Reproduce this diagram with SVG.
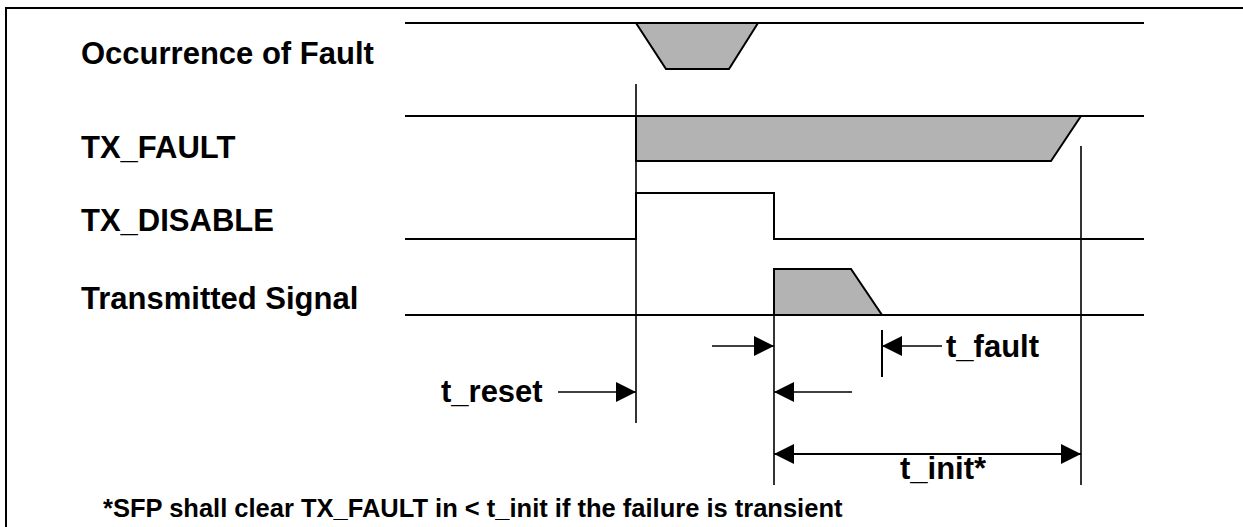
<svg xmlns="http://www.w3.org/2000/svg" width="1243" height="527" viewBox="0 0 1243 527">
<defs>
<style>
.lbl{font-family:"Liberation Sans",Arial,sans-serif;font-weight:bold;font-size:31px;fill:#000}
.foot{font-family:"Liberation Sans",Arial,sans-serif;font-weight:bold;font-size:25.5px;fill:#000}
.ln{stroke:#000;stroke-width:2;fill:none}
.gr{fill:#b3b3b3;stroke:#000;stroke-width:2}
.th{stroke:#000;stroke-width:1.6;fill:none}
</style>
<marker id="ah" viewBox="0 0 20 20" refX="20" refY="10" markerWidth="20" markerHeight="20" markerUnits="userSpaceOnUse" orient="auto-start-reverse">
<path d="M0,0 L20,10 L0,20 Z" fill="#000"/>
</marker>
</defs>
<rect x="0" y="0" width="1243" height="527" fill="#fff"/>
<rect x="6" y="8" width="1300" height="600" fill="none" stroke="#000" stroke-width="2"/>

<g id="occurrence">
<text class="lbl" x="81" y="64">Occurrence of Fault</text>
<line class="ln" x1="405" y1="23" x2="1144" y2="23"/>
<polygon class="gr" points="636,23 758,23 729,69 666,69"/>
</g>

<g id="tx_fault">
<text class="lbl" x="81" y="158">TX_FAULT</text>
<line class="ln" x1="405" y1="116" x2="1144" y2="116"/>
<polygon class="gr" points="636,116 1081,116 1051,161 636,161"/>
</g>

<g id="tx_disable">
<text class="lbl" x="81" y="231">TX_DISABLE</text>
<path class="ln" d="M405,239 H636 V193 H774 V239 H1144"/>
</g>

<g id="transmitted">
<text class="lbl" x="81" y="309">Transmitted Signal</text>
<line class="ln" x1="405" y1="315" x2="1144" y2="315"/>
<polygon class="gr" points="774,269 851,269 882,315 774,315"/>
</g>

<g id="guides">
<line class="th" x1="636" y1="84" x2="636" y2="423"/>
<line class="th" x1="774" y1="269" x2="774" y2="485"/>
<line class="th" x1="1081" y1="146" x2="1081" y2="485"/>
<line class="ln" x1="882" y1="330" x2="882" y2="377"/>
</g>

<g id="connectors">
<line class="th" x1="712" y1="346" x2="774" y2="346" marker-end="url(#ah)"/>
<line class="th" x1="942" y1="346" x2="882" y2="346" marker-end="url(#ah)"/>
<line class="th" x1="558" y1="392" x2="636" y2="392" marker-end="url(#ah)"/>
<line class="th" x1="852" y1="392" x2="774" y2="392" marker-end="url(#ah)"/>
<line class="ln" x1="774" y1="454" x2="1081" y2="454" marker-start="url(#ah)" marker-end="url(#ah)"/>
</g>

<g id="timing-labels">
<text class="lbl" x="441" y="402">t_reset</text>
<text class="lbl" x="946" y="357">t_fault</text>
<text class="lbl" x="900" y="479">t_init*</text>
</g>

<text class="foot" x="103" y="517">*SFP shall clear TX_FAULT in &lt; t_init if the failure is transient</text>
</svg>
